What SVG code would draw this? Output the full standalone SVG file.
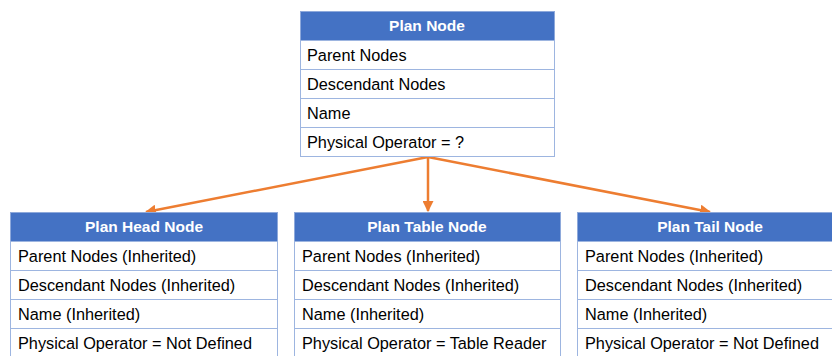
<svg xmlns="http://www.w3.org/2000/svg" width="832" height="356" viewBox="0 0 832 356">
  <defs>
    <marker id="arrow" viewBox="0 0 10 10" refX="9" refY="5" markerWidth="4.4" markerHeight="4.4" orient="auto" markerUnits="strokeWidth">
      <path d="M0,0 L10,5 L0,10 z" fill="#ED7D31"/>
    </marker>
  </defs>
  <style>
    .hdr { fill: #4472C4; stroke: #8EA9DB; stroke-width: 1; }
    .row { fill: #FFFFFF; stroke: #9DB5E0; stroke-width: 1; }
    .title { font-family: "Liberation Sans", Arial, sans-serif; font-size: 15.5px; font-weight: bold; fill: #FFFFFF; text-anchor: middle; }
    .field { font-family: "Liberation Sans", Arial, sans-serif; font-size: 16.3px; fill: #000000; }
    .link { stroke: #ED7D31; stroke-width: 2.5; fill: none; marker-end: url(#arrow); }
  </style>

  <g id="connectors">
    <line class="link" x1="428" y1="157" x2="146" y2="212"/>
    <line class="link" x1="428" y1="157" x2="428" y2="211"/>
    <line class="link" x1="428" y1="157" x2="710" y2="212"/>
  </g>

  <g id="plan-node">
    <rect class="hdr" x="300.5" y="11.5" width="254" height="29"/>
    <rect class="row" x="300.5" y="40.5" width="254" height="29"/>
    <rect class="row" x="300.5" y="69.5" width="254" height="29"/>
    <rect class="row" x="300.5" y="98.5" width="254" height="29"/>
    <rect class="row" x="300.5" y="127.5" width="254" height="29"/>
    <text class="title" x="427" y="31">Plan Node</text>
    <text class="field" x="307" y="61">Parent Nodes</text>
    <text class="field" x="307" y="90">Descendant Nodes</text>
    <text class="field" x="307" y="119">Name</text>
    <text class="field" x="307" y="148">Physical Operator = ?</text>
  </g>

  <g id="plan-head-node">
    <rect class="hdr" x="10.5" y="212.5" width="267" height="29"/>
    <rect class="row" x="10.5" y="241.5" width="267" height="29"/>
    <rect class="row" x="10.5" y="270.5" width="267" height="29"/>
    <rect class="row" x="10.5" y="299.5" width="267" height="29"/>
    <rect class="row" x="10.5" y="328.5" width="267" height="29"/>
    <text class="title" x="144" y="232">Plan Head Node</text>
    <text class="field" x="18" y="262">Parent Nodes (Inherited)</text>
    <text class="field" x="18" y="291">Descendant Nodes (Inherited)</text>
    <text class="field" x="18" y="320">Name (Inherited)</text>
    <text class="field" x="18" y="349">Physical Operator = Not Defined</text>
  </g>

  <g id="plan-table-node">
    <rect class="hdr" x="294.5" y="212.5" width="266" height="29"/>
    <rect class="row" x="294.5" y="241.5" width="266" height="29"/>
    <rect class="row" x="294.5" y="270.5" width="266" height="29"/>
    <rect class="row" x="294.5" y="299.5" width="266" height="29"/>
    <rect class="row" x="294.5" y="328.5" width="266" height="29"/>
    <text class="title" x="427" y="232">Plan Table Node</text>
    <text class="field" x="302" y="262">Parent Nodes (Inherited)</text>
    <text class="field" x="302" y="291">Descendant Nodes (Inherited)</text>
    <text class="field" x="302" y="320">Name (Inherited)</text>
    <text class="field" x="302" y="349">Physical Operator = Table Reader</text>
  </g>

  <g id="plan-tail-node">
    <rect class="hdr" x="577.5" y="212.5" width="266" height="29"/>
    <rect class="row" x="577.5" y="241.5" width="266" height="29"/>
    <rect class="row" x="577.5" y="270.5" width="266" height="29"/>
    <rect class="row" x="577.5" y="299.5" width="266" height="29"/>
    <rect class="row" x="577.5" y="328.5" width="266" height="29"/>
    <text class="title" x="710" y="232">Plan Tail Node</text>
    <text class="field" x="585" y="262">Parent Nodes (Inherited)</text>
    <text class="field" x="585" y="291">Descendant Nodes (Inherited)</text>
    <text class="field" x="585" y="320">Name (Inherited)</text>
    <text class="field" x="585" y="349">Physical Operator = Not Defined</text>
  </g>
</svg>
